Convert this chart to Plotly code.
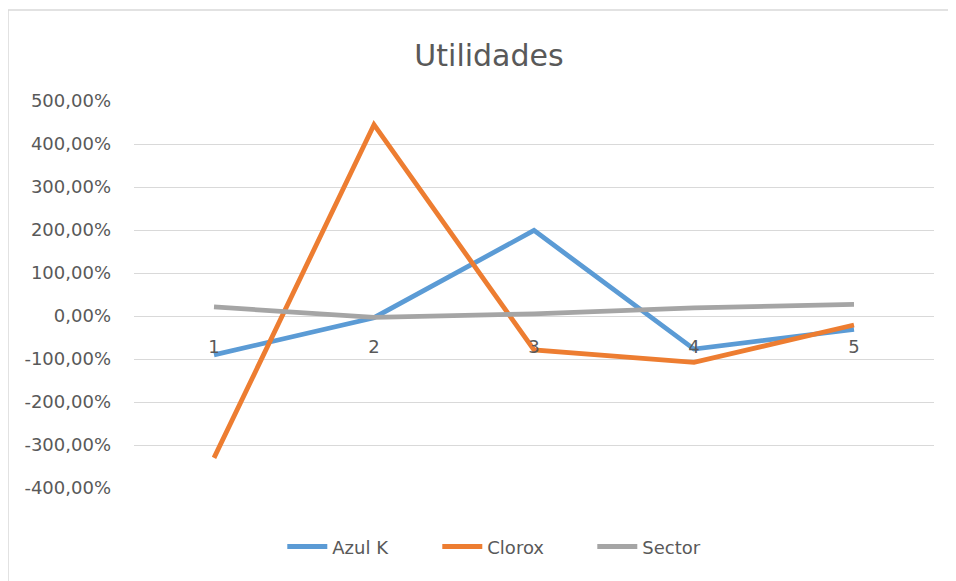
import plotly.graph_objects as go

categories = ["1", "2", "3", "4", "5"]
azul_k = [-90.5, -4.0, 199.0, -77.0, -31.0]
clorox = [-330.0, 445.0, -79.0, -108.0, -21.0]
sector = [21.0, -3.0, 5.0, 19.0, 27.0]
y_ticks = [-400, -300, -200, -100, 0, 100, 200, 300, 400, 500]
y_tick_labels = ["-400,00%", "-300,00%", "-200,00%", "-100,00%", "0,00%",
                 "100,00%", "200,00%", "300,00%", "400,00%", "500,00%"]

FONT = "DejaVu Sans"
TXT = "#595959"

# page body adds an 8px offset; figure sized to fit inside the window
W, H = 948, 573
L, T = 126, 93
PW, PH = 800, 387

fig = go.Figure()
fig.add_trace(go.Scatter(x=categories, y=azul_k, name="Azul K", mode="lines",
                         line=dict(color="#5B9BD5", width=4.8)))
fig.add_trace(go.Scatter(x=categories, y=clorox, name="Clorox", mode="lines",
                         line=dict(color="#ED7D31", width=4.8)))
fig.add_trace(go.Scatter(x=categories, y=sector, name="Sector", mode="lines",
                         line=dict(color="#A5A5A5", width=4.8)))

fig.update_layout(
    width=W, height=H,
    paper_bgcolor="white", plot_bgcolor="white",
    margin=dict(l=L, r=W - L - PW, t=T, b=H - T - PH),
    font=dict(family=FONT, color=TXT, size=17),
    title=dict(text="Utilidades", x=(489 - 8) / W, xref="container", xanchor="center",
               y=1 - 47 / H, yanchor="middle",
               font=dict(size=30, color=TXT, family=FONT)),
    showlegend=True,
    legend=dict(orientation="h", x=0.476, xanchor="center",
                y=-0.152, yanchor="middle",
                font=dict(size=18, color=TXT, family=FONT), itemwidth=40,
                entrywidth=100, traceorder="normal"),
    xaxis=dict(type="category", range=[-0.5, 4.5], showgrid=False,
               showline=False, zeroline=False, ticks="",
               anchor="free", position=4 / 9,
               tickfont=dict(size=18, color=TXT, family=FONT), ticklabelstandoff=18),
    yaxis=dict(range=[-400, 500], tickvals=y_ticks, ticktext=y_tick_labels,
               showgrid=True, gridcolor="#D9D9D9", gridwidth=1,
               zeroline=False, showline=False, ticks="",
               tickfont=dict(size=18, color=TXT, family=FONT), ticklabelstandoff=22),
    shapes=[
        dict(type="line", xref="paper", yref="paper",
             x0=(0 - L) / PW, x1=(0 - L) / PW,
             y0=(T + PH - 600) / PH, y1=(T + PH - 2) / PH,
             line=dict(color="#D9D9D9", width=1.5), layer="below"),
        dict(type="line", xref="paper", yref="paper",
             x0=(0 - L) / PW, x1=(1000 - L) / PW,
             y0=(T + PH - 2) / PH, y1=(T + PH - 2) / PH,
             line=dict(color="#D9D9D9", width=1.5), layer="below"),
    ],
)

fig.write_html("out.html")
